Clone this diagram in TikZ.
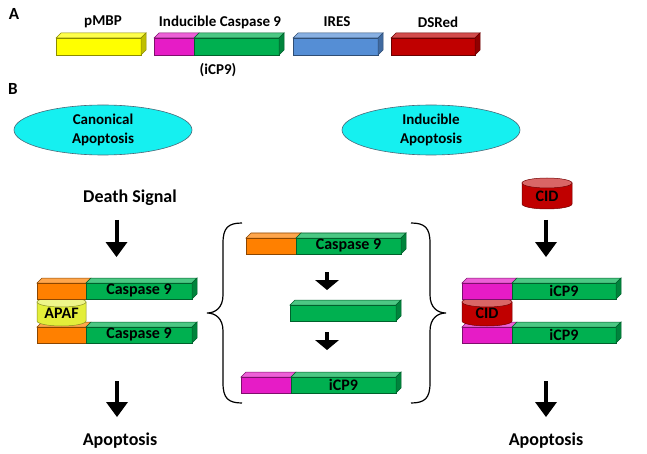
\documentclass[tikz,border=0pt]{standalone}
\usepackage{fontspec}
\setmainfont{Carlito}
\usetikzlibrary{arrows.meta}
\definecolor{cyel}{HTML}{FFFF00}
\definecolor{cmag}{HTML}{E61CC6}
\definecolor{cgrn}{HTML}{00B050}
\definecolor{cblu}{HTML}{558ED5}
\definecolor{cred}{HTML}{C00000}
\definecolor{corg}{HTML}{FF8000}
\definecolor{capaf}{HTML}{E3EE3A}
\definecolor{ccyan}{HTML}{15F0F0}
% front segment with top face: x1 x2 y1 y2 colour
\newcommand{\barseg}[5]{%
  \filldraw[fill=#5!70!white,draw=#5!55!black,line width=0.5pt] (#1,#3) -- ({#1+5},{#3-5}) -- ({#2+5},{#3-5}) -- (#2,#3) -- cycle;
  \filldraw[fill=#5,draw=#5!55!black,line width=0.5pt] (#1,#3) rectangle (#2,#4);}
\newcommand{\barside}[4]{%
  \filldraw[fill=#4!75!black,draw=#4!55!black,line width=0.5pt] (#1,#2) -- ({#1+5},{#2-5}) -- ({#1+5},{#3-5}) -- (#1,#3) -- cycle;}
% cylinder: xc R ytop ybot colour
\newcommand{\cyl}[5]{%
  \filldraw[fill=#5,draw=#5!60!black,line width=0.5pt] ({#1-#2},#3) -- ({#1-#2},#4) arc[start angle=180,end angle=360,x radius=#2pt,y radius=5pt] -- ({#1+#2},#3) -- cycle;
  \filldraw[fill=#5!60!white,draw=#5!60!black,line width=0.5pt] (#1,#3) ellipse[x radius=#2pt,y radius=5pt];}
\begin{document}
\begin{tikzpicture}[x=1pt,y=-1pt,
  ttl/.style={font=\fontsize{15}{18}\selectfont\bfseries},
  big/.style={font=\fontsize{18}{20}\selectfont\bfseries},
  inbar/.style={font=\fontsize{16}{18}\selectfont\bfseries},
  panel/.style={font=\fontsize{17}{19}\selectfont\bfseries},
  oval/.style={ellipse,fill=ccyan,draw=black!60!cyan,line width=0.6pt},
  bigarrow/.style={line width=4pt,-{Triangle[width=22pt,length=15pt,line width=0pt]}},
  smallarrow/.style={line width=4pt,-{Triangle[width=24pt,length=10pt,line width=0pt]}},
  brace/.style={line width=1.2pt,black}]
\useasboundingbox (0,0) rectangle (647,454);
% panel labels
\node[panel] (lA) at (14,14) {A};
\node[panel] (lB) at (13,89) {B};
% --- panel A bars
\barseg{56}{141}{38}{55}{cyel}\barside{141}{38}{55}{cyel}
\barseg{154}{194}{38}{55}{cmag}\barseg{194}{279}{38}{55}{cgrn}\barside{279}{38}{55}{cgrn}
\barseg{293}{378}{38}{55}{cblu}\barside{378}{38}{55}{cblu}
\barseg{391}{475}{38}{55}{cred}\barside{475}{38}{55}{cred}
\node[ttl] (tpmbp) at (103,22) {pMBP};
\node[ttl] (tic9) at (220,22) {Inducible Caspase 9};
\node[ttl] (tires) at (337,22) {IRES};
\node[ttl] (tds) at (438,22) {DSRed};
\node[ttl] (ticp) at (218,70) {(iCP9)};
% --- ellipses
\fill[ccyan,draw=black!60!cyan,line width=0.6pt] (103,130) ellipse[x radius=89pt,y radius=25pt];
\node[ttl,align=center] (canon) at (103,130) {Canonical\\[1pt]Apoptosis};
\fill[ccyan,draw=black!60!cyan,line width=0.6pt] (431,130) ellipse[x radius=89pt,y radius=25pt];
\node[ttl,align=center] (induc) at (431,130) {Inducible\\[1pt]Apoptosis};
% --- left column
\node[big] (death) at (130,198) {Death Signal};
\coordinate (la1s) at (116.5,220);
\coordinate (la1e) at (116.5,257);
\draw[bigarrow] (la1s) -- (la1e);
\barseg{37}{86}{327}{343}{corg}\barseg{86}{192}{327}{343}{cgrn}\barside{192}{327}{343}{cgrn}
\cyl{61.5}{24.5}{302}{321}{capaf}
\barseg{37}{86}{283}{299}{corg}\barseg{86}{192}{283}{299}{cgrn}\barside{192}{283}{299}{cgrn}
\node[inbar] (lc1) at (139,291) {Caspase 9};
\node[inbar] (lc2) at (139,335) {Caspase 9};
\node[inbar] (apaf) at (61.5,313) {APAF};
\coordinate (la2s) at (117,381);
\coordinate (la2e) at (117,417);
\draw[bigarrow] (la2s) -- (la2e);
\node[big] (lapo) at (120,441) {Apoptosis};
% --- middle
\barseg{246}{296}{238}{254}{corg}\barseg{296}{401}{238}{254}{cgrn}\barside{401}{238}{254}{cgrn}
\node[inbar] (mc1) at (348.5,246) {Caspase 9};
\coordinate (ma1s) at (327,272);
\coordinate (ma1e) at (327,290);
\draw[smallarrow] (ma1s) -- (ma1e);
\barseg{290}{396}{305}{321}{cgrn}\barside{396}{305}{321}{cgrn}
\coordinate (ma2s) at (327,332);
\coordinate (ma2e) at (327,350);
\draw[smallarrow] (ma2s) -- (ma2e);
\barseg{241}{291}{377}{393}{cmag}\barseg{291}{396}{377}{393}{cgrn}\barside{396}{377}{393}{cgrn}
\node[inbar] (mc3) at (343.5,385) {iCP9};
% braces
\draw[brace] (242,223) .. controls (228,223) and (223,228) .. (223,243) -- (223,295) .. controls (223,308) and (215,313) .. (207,313) .. controls (215,313) and (223,318) .. (223,331) -- (223,383) .. controls (223,398) and (228,403) .. (242,403);
\draw[brace] (411,223) .. controls (425,223) and (430,228) .. (430,243) -- (430,295) .. controls (430,308) and (438,313) .. (446,313) .. controls (438,313) and (430,318) .. (430,331) -- (430,383) .. controls (430,398) and (425,403) .. (411,403);
% --- right column
\cyl{547}{25}{183}{204}{cred}
\node[inbar] (cid1) at (547,196) {CID};
\coordinate (ra1s) at (546,220);
\coordinate (ra1e) at (546,257);
\draw[bigarrow] (ra1s) -- (ra1e);
\barseg{462}{512}{327}{343}{cmag}\barseg{512}{616}{327}{343}{cgrn}\barside{616}{327}{343}{cgrn}
\cyl{487}{25}{302}{321}{cred}
\barseg{462}{512}{283}{299}{cmag}\barseg{512}{616}{283}{299}{cgrn}\barside{616}{283}{299}{cgrn}
\node[inbar] (ric1) at (564,291) {iCP9};
\node[inbar] (ric2) at (564,335) {iCP9};
\node[inbar] (cid2) at (487,313) {CID};
\coordinate (ra2s) at (546,381);
\coordinate (ra2e) at (546,417);
\draw[bigarrow] (ra2s) -- (ra2e);
\node[big] (rapo) at (546,441) {Apoptosis};
\end{tikzpicture}
\end{document}
